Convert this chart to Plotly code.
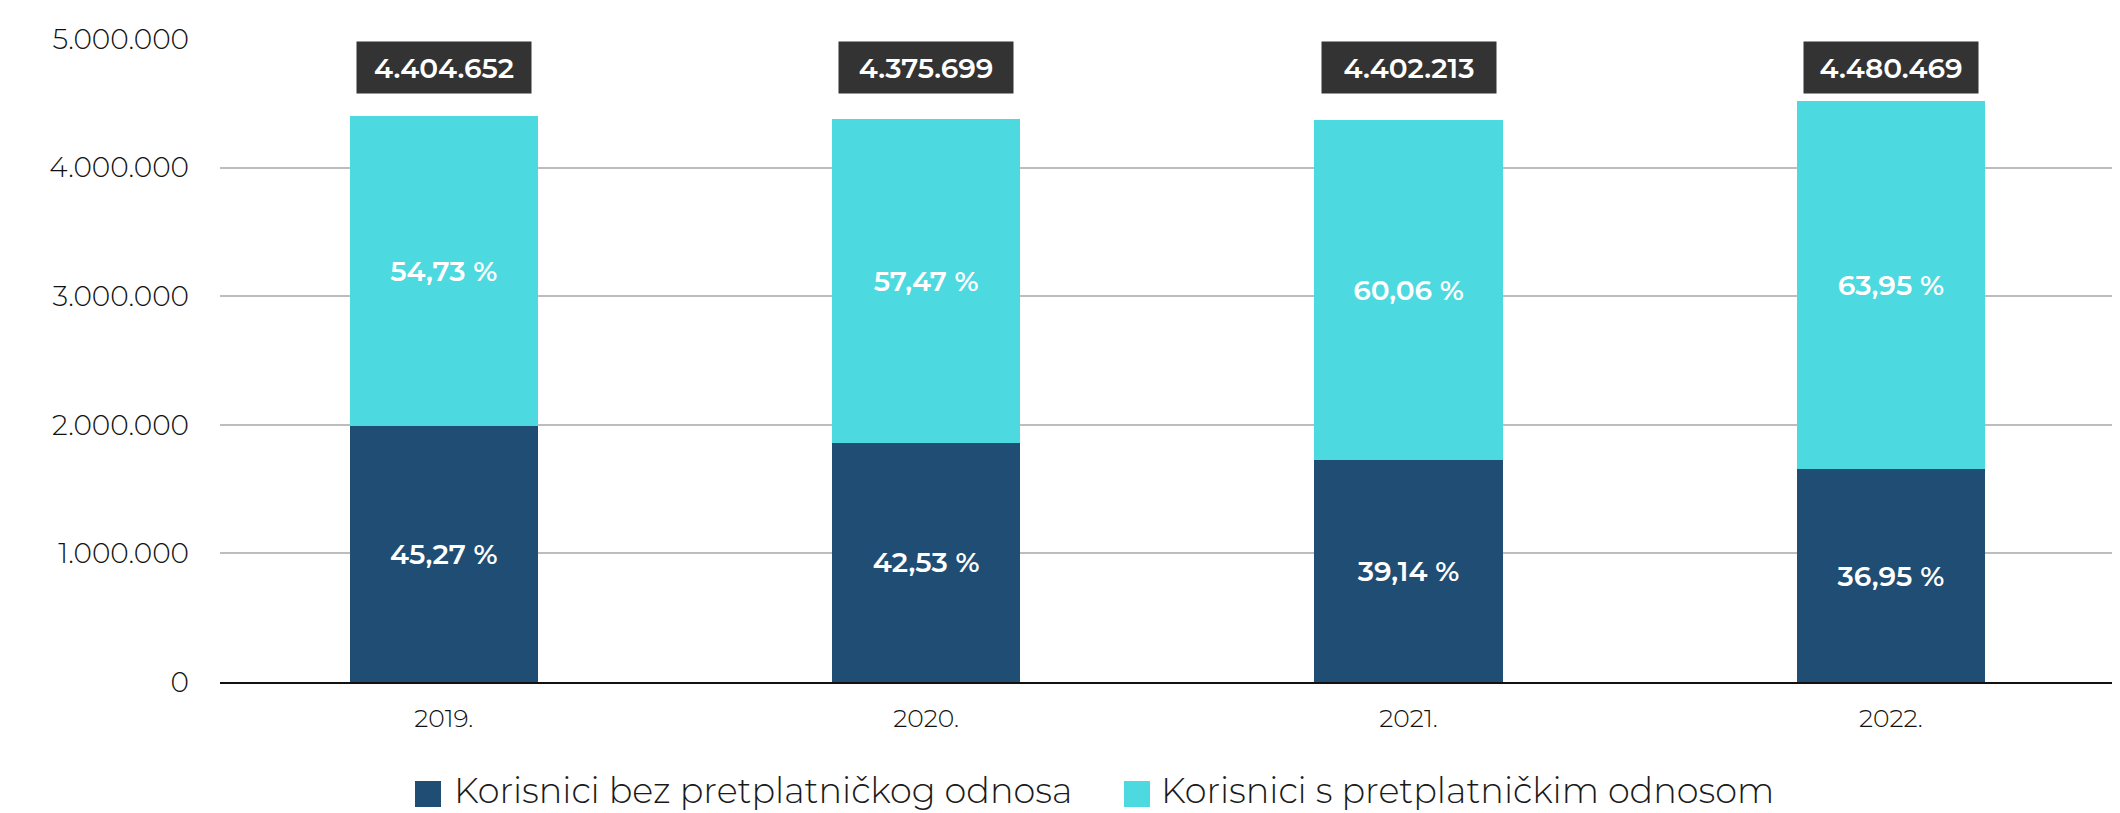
import plotly.graph_objects as go

# ---- data ----
years = ["2019.", "2020.", "2021.", "2022."]
totals = [4404652, 4375699, 4402213, 4480469]
pct_bez = [45.27, 42.53, 39.14, 36.95]      # Korisnici bez pretplatničkog odnosa
pct_s = [54.73, 57.47, 60.06, 63.95]        # Korisnici s pretplatničkim odnosom
series_names = ["Korisnici bez pretplatničkog odnosa", "Korisnici s pretplatničkim odnosom"]
y_ticks = [0, 1000000, 2000000, 3000000, 4000000, 5000000]

vals_bez = [t * p / 100 for t, p in zip(totals, pct_bez)]
vals_s = [t * p / 100 for t, p in zip(totals, pct_s)]

def fmt_pct(p):
    return f"{p:.2f}".replace(".", ",") + " %"

def fmt_int(v):
    return f"{v:,}".replace(",", ".")

C_DARK = "#1F4D73"
C_LIGHT = "#4DD9E0"
FONT = "Montserrat, Open Sans, sans-serif"

OFF = 8  # page body margin
W, H = 2120 - OFF, 813 - OFF
ML, MR, MT, MB = 220 - OFF, 0, 39 - OFF, 131
PW, PH = W - ML - MR, H - MT - MB

def px_x(x):  # page px -> paper
    return (x - OFF - ML) / PW

def px_y(y):
    return (H - MB - (y - OFF)) / PH

fig = go.Figure()
for name, vals, pcts, col in [(series_names[0], vals_bez, pct_bez, C_DARK),
                              (series_names[1], vals_s, pct_s, C_LIGHT)]:
    fig.add_trace(go.Bar(
        x=years, y=vals, name=name, marker=dict(color=col, line=dict(width=0)),
        width=0.39,
        text=[fmt_pct(p) for p in pcts], textposition="inside",
        insidetextanchor="middle",
        textfont=dict(color="white", size=28, family=FONT, weight=600),
        showlegend=False,
    ))

annotations = []
for i, t in enumerate(totals):
    annotations.append(dict(
        x=i, y=px_y(67.5), xref="x", yref="paper", text=fmt_int(t),
        showarrow=False, bgcolor="#333333", width=172, height=49,
        font=dict(color="white", size=28, family=FONT, weight=600),
        xanchor="center", yanchor="middle",
    ))

# custom legend
shapes = []
leg = [(415, 452, C_DARK, series_names[0]), (1124, 1159, C_LIGHT, series_names[1])]
for sx, tx, col, name in leg:
    shapes.append(dict(type="rect", xref="paper", yref="paper",
                       x0=px_x(sx), x1=px_x(sx + 26), y0=px_y(807), y1=px_y(781),
                       fillcolor=col, line=dict(width=0)))
    annotations.append(dict(x=px_x(tx), y=px_y(790), xref="paper", yref="paper",
                            text=name, showarrow=False, xanchor="left", yanchor="middle",
                            font=dict(size=35, color="#1a1a1a", family=FONT, weight=300)))

fig.update_layout(
    width=W, height=H, autosize=False,
    barmode="stack", separators=",.",
    margin=dict(l=ML, r=MR, t=MT, b=MB, pad=0),
    paper_bgcolor="white", plot_bgcolor="white",
    showlegend=False,
    annotations=annotations, shapes=shapes,
    xaxis=dict(
        type="category", range=[-0.464, 3.475],
        showline=True, linecolor="#111111", linewidth=2,
        showgrid=False, ticks="",
        tickfont=dict(size=25, color="#111111", family=FONT, weight=300),
        ticklabelstandoff=13,
    ),
    yaxis=dict(
        range=[0, 5000000], tickvals=y_ticks, tickformat=",d",
        showgrid=True, gridcolor="#BDBDBD", gridwidth=1.5,
        zeroline=False, showline=False, ticks="",
        tickfont=dict(size=28, color="#111111", family=FONT, weight=300),
        ticklabelstandoff=30,
    ),
)

fig.write_html("out.html")
